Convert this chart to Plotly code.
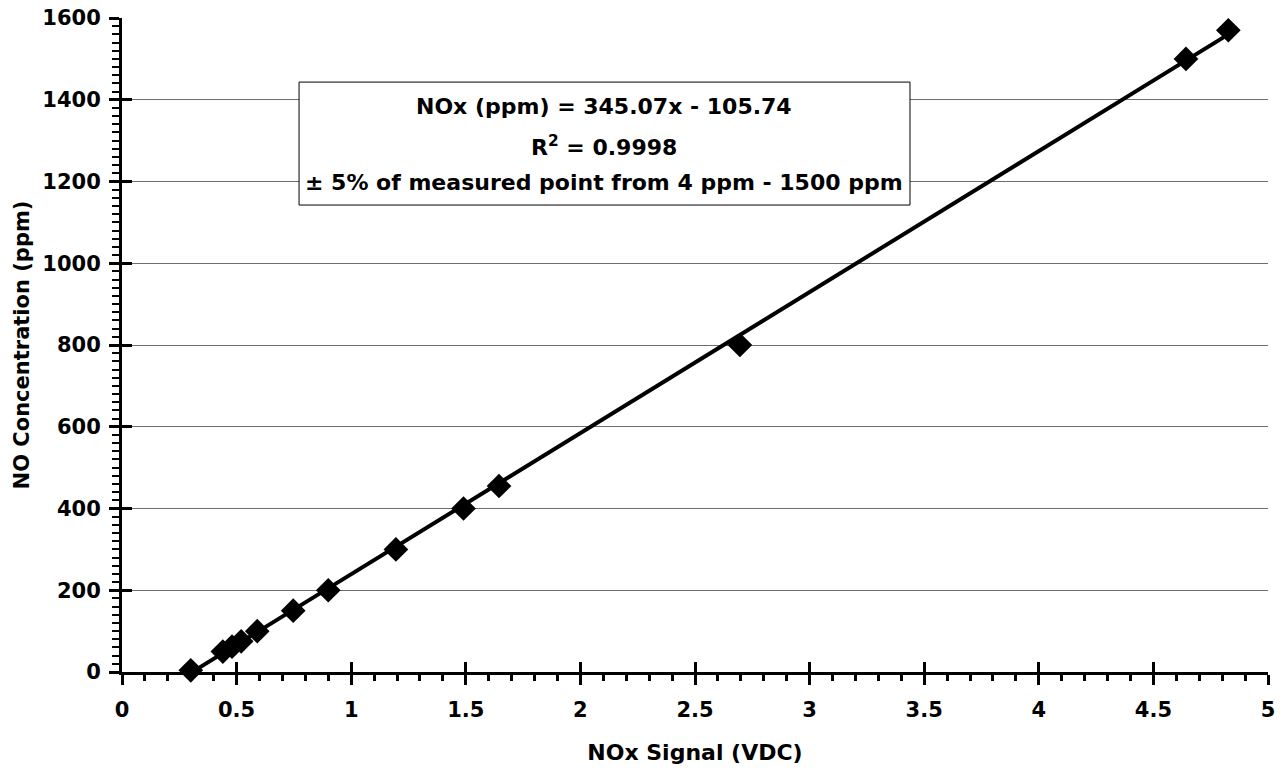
import numpy as np
import plotly.graph_objects as go

# ---- data ----
signal_vdc = [0.30, 0.44, 0.48, 0.52, 0.59, 0.747, 0.90, 1.195, 1.49, 1.645, 2.696, 4.642, 4.827]
no_ppm = [4, 50, 62, 75, 100, 150, 200, 300, 400, 455, 800, 1500, 1570]
fit_slope = 345.07
fit_intercept = -105.74
x_ticks = [0, 0.5, 1, 1.5, 2, 2.5, 3, 3.5, 4, 4.5, 5]
y_ticks = [0, 200, 400, 600, 800, 1000, 1200, 1400, 1600]
eq_lines = ["NOx (ppm) = 345.07x - 105.74",
            "R<sup>2</sup> = 0.9998",
            "± 5% of measured point from 4 ppm - 1500 ppm"]

FONT = "DejaVu Sans"

fit_x = np.array([min(signal_vdc), max(signal_vdc)])
fit_y = fit_slope * fit_x + fit_intercept

fig = go.Figure()
fig.add_trace(go.Scatter(x=fit_x, y=fit_y, mode="lines",
                         line=dict(color="black", width=4),
                         showlegend=False, hoverinfo="skip"))
fig.add_trace(go.Scatter(x=signal_vdc, y=no_ppm, mode="markers",
                         marker=dict(symbol="diamond", size=19, color="black"),
                         cliponaxis=False, showlegend=False))
# helper trace for overlay axes (crossing ticks)
fig.add_trace(go.Scatter(x=[None], y=[None], xaxis="x2", yaxis="y2",
                         showlegend=False, hoverinfo="skip"))

tickfont = dict(family=FONT, size=21, color="black", weight="bold")

fig.update_layout(
    width=1287, height=770,
    margin=dict(l=122, r=19, t=18, b=98),
    paper_bgcolor="white", plot_bgcolor="white",
    xaxis=dict(range=[0, 5], tickvals=x_ticks, ticktext=[f"{v:g}" for v in x_ticks],
               showgrid=False, zeroline=False, automargin=False,
               showline=True, linewidth=3, linecolor="black",
               ticks="outside", ticklen=10, tickwidth=3, tickcolor="black",
               minor=dict(dtick=0.1, ticks="outside", ticklen=6, tickwidth=3, tickcolor="black"),
               tickfont=tickfont, ticklabelstandoff=7,
               title=dict(text="<b>NOx Signal (VDC)</b>",
                          font=dict(family=FONT, size=22, color="black"), standoff=24)),
    yaxis=dict(range=[0, 1600], tickvals=y_ticks, ticktext=[str(v) for v in y_ticks],
               showgrid=True, gridcolor="#6e6e6e", gridwidth=1, zeroline=False, automargin=False,
               showline=True, linewidth=3, linecolor="black",
               ticks="outside", ticklen=10, tickwidth=3, tickcolor="black",
               minor=dict(dtick=20, ticks="outside", ticklen=7, tickwidth=2, tickcolor="black",
                          showgrid=False),
               tickfont=tickfont, ticklabelstandoff=4,
               title=dict(text="<b>NO Concentration (ppm)</b>",
                          font=dict(family=FONT, size=21, color="black"), standoff=7)),
    xaxis2=dict(overlaying="x", anchor="y", side="bottom", range=[0, 5], automargin=False,
                tickvals=x_ticks, showticklabels=False, showgrid=False, zeroline=False,
                showline=False, ticks="inside", ticklen=10, tickwidth=3, tickcolor="black"),
    yaxis2=dict(overlaying="y", anchor="x", side="left", range=[0, 1600], automargin=False,
                tickvals=y_ticks, showticklabels=False, showgrid=False, zeroline=False,
                showline=False, ticks="inside", ticklen=10, tickwidth=3, tickcolor="black"),
)

# annotation box
fig.add_shape(type="rect", xref="paper", yref="paper",
              x0=0.1545, x1=0.6876, y0=0.714, y1=0.902,
              line=dict(color="black", width=1), fillcolor="white", layer="above")
line_y = [0.864, 0.805, 0.749]
for txt, yy in zip(eq_lines, line_y):
    fig.add_annotation(xref="paper", yref="paper", x=0.421, y=yy,
                       text=f"<b>{txt}</b>", showarrow=False,
                       font=dict(family=FONT, size=22, color="black"),
                       xanchor="center", yanchor="middle")

fig.write_html("out.html")
